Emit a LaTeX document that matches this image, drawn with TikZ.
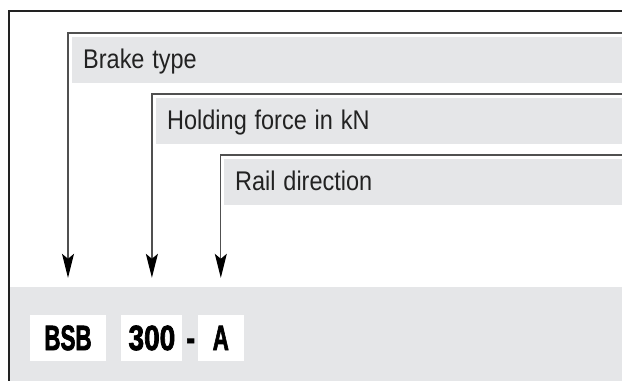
\documentclass[tikz,border=0pt]{standalone}
\usepackage{fontspec}
\setmainfont{Liberation Sans}
\newfontfamily\codefont{Liberation Sans Bold}[FakeBold=2.5]
\usetikzlibrary{arrows.meta,positioning}
\definecolor{bandgray}{RGB}{229,230,232}
\definecolor{rulegray}{RGB}{80,80,80}
\definecolor{inkgray}{RGB}{34,34,34}
\newcommand{\bandtext}[1]{\scalebox{0.87}[1]{#1}}
\newcommand{\codetext}[2][0.64]{\scalebox{#1}[1]{#2}}
\tikzset{
  band/.style={fill=bandgray, anchor=north west, inner xsep=11pt, inner ysep=0pt,
    text height=31pt, text depth=15pt, align=left, text=inkgray,
    font=\fontsize{27}{27}\selectfont},
  codebox/.style={fill=white, inner sep=0pt, text height=35pt, text depth=11pt,
    text=black, font=\fontsize{35}{35}\codefont},
  sepmark/.style={inner sep=0pt, text height=35pt, text depth=11pt,
    text=black, font=\fontsize{35}{35}\codefont},
  leader/.style={draw=rulegray, line width=1.3pt,
    -{Stealth[length=24pt,width=12pt,inset=5pt,color=black]}},
  frame/.style={draw=inkgray, line width=2.5pt}
}
\begin{document}
\begin{tikzpicture}[x=1pt,y=-1pt]
  \useasboundingbox (0,0) rectangle (622,381);

  % code line at the bottom
  \fill[bandgray] (9,287) rectangle (622,381);
  \node[codebox, minimum width=76pt] (bsb) at (68,338) {\codetext{BSB}};
  \node[codebox, minimum width=61pt, right=15pt of bsb] (load) {\codetext[0.8]{300}};
  \node[sepmark, right=3.5pt of load] (sep) {\codetext[0.75]{-}};
  \node[codebox, minimum width=46pt, right=15pt of load] (dir) {\codetext{A}};

  % labels
  \node[band, text width=528pt] (brake) at (72,37) {\bandtext{Brake type}};
  \node[band, text width=444pt] (hold) at (156,98) {\bandtext{Holding force in kN}};
  \node[band, text width=376pt] (rail) at (224,159) {\bandtext{Rail direction}};

  % leaders
  \draw[leader] ([yshift=4pt]brake.north east) -| ([yshift=37pt]bsb.north);
  \draw[leader] ([yshift=4pt]hold.north east) -| ([yshift=37pt]load.north);
  \draw[leader] ([yshift=4pt]rail.north east) -| ([yshift=37pt]dir.north);

  % outer frame
  \draw[frame] (622,11) -- (9,11) -- (9,381);
\end{tikzpicture}
\end{document}
